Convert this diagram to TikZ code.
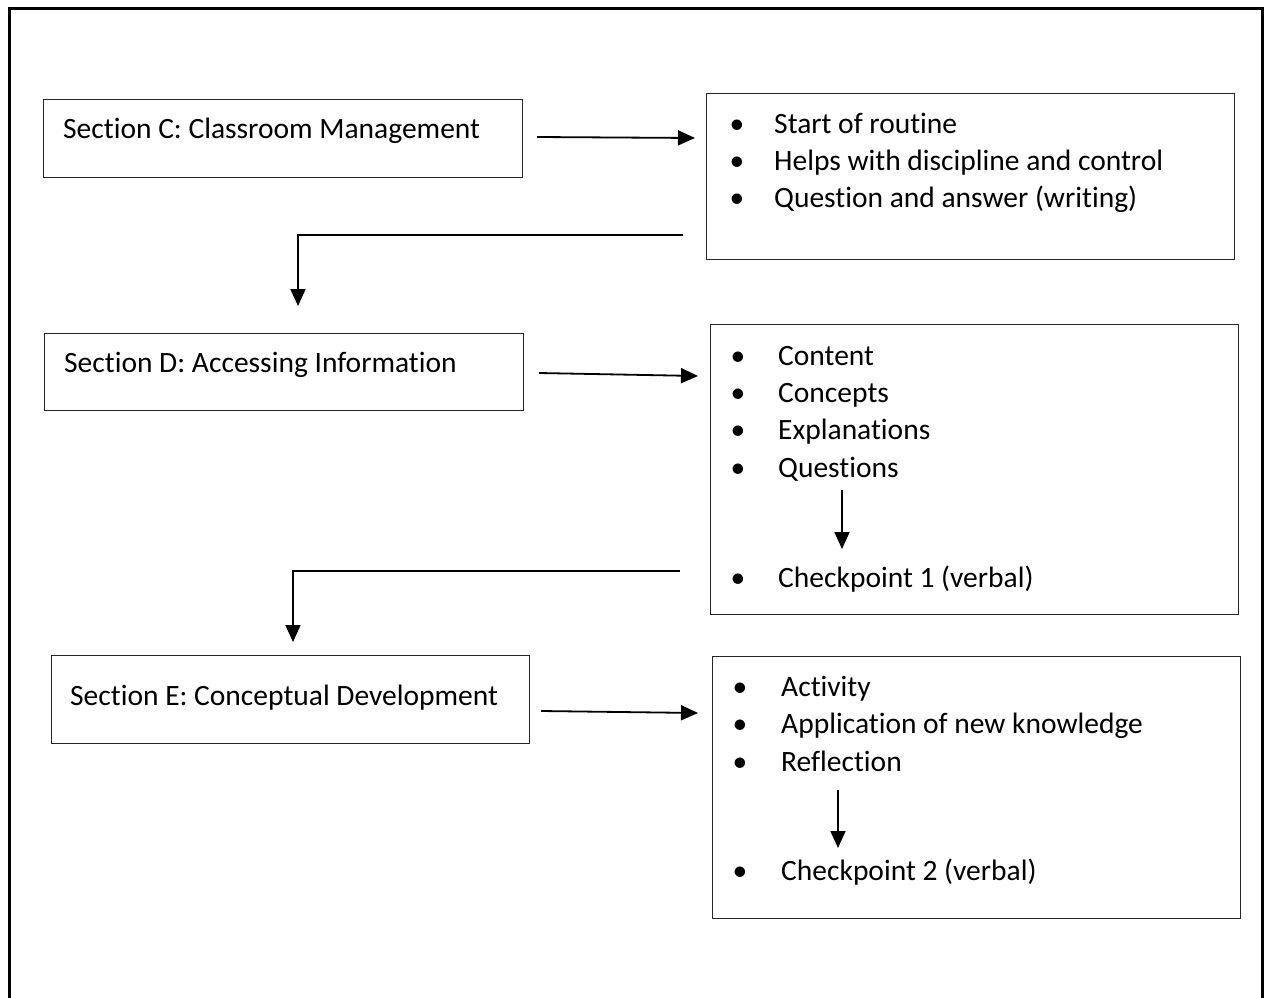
\documentclass[tikz,border=0pt]{standalone}
\usepackage{fontspec}
\setmainfont[Ligatures={NoCommon}]{Carlito}
\usetikzlibrary{arrows.meta}
\begin{document}
\begin{tikzpicture}[x=1pt,y=-1pt,
  box/.style={draw=black!85, line width=1.4pt, anchor=north west, inner sep=0pt},
  txt/.style={anchor=base west, inner sep=0pt, font=\fontsize{29.5}{35}\selectfont},
  bul/.style={anchor=base, inner sep=0pt, font=\fontsize{29.5}{35}\selectfont},
  arr/.style={line width=1.8pt, -{Triangle[length=17pt,width=15pt]}}]
\useasboundingbox (0,0) rectangle (1269,998);
\fill[white] (0,0) rectangle (1269,998);
\draw[line width=3pt] (9,1005) -- (9,9) -- (1262,9) -- (1262,1005);

% boxes
\node[box, minimum width=479pt, minimum height=78pt] (cbox) at (43,99) {};
\node[box, minimum width=528pt, minimum height=166pt] (clist) at (706,93) {};
\node[box, minimum width=479pt, minimum height=77pt] (dbox) at (44,333) {};
\node[box, minimum width=528pt, minimum height=290pt] (dlist) at (710,324) {};
\node[box, minimum width=478pt, minimum height=88pt] (ebox) at (51,655) {};
\node[box, minimum width=528pt, minimum height=262pt] (elist) at (712,656) {};

% labels
\node[txt] (clab) at (63,138) {Section C: Classroom Management};
\node[txt] (dlab) at (64,372) {Section D: Accessing Information};
\node[txt] (elab) at (70,705) {Section E: Conceptual Development};

% C list
\node[bul] at (737,133) {•};
\node[bul] at (737,170) {•};
\node[bul] at (737,207) {•};
\node[txt] (c1) at (774,133) {Start of routine};
\node[txt] (c2) at (774,170) {Helps with discipline and control};
\node[txt] (c3) at (774,207) {Question and answer (writing)};

% D list
\node[bul] at (738,365) {•};
\node[bul] at (738,402) {•};
\node[bul] at (738,439) {•};
\node[bul] at (738,477) {•};
\node[bul] at (738,587) {•};
\node[txt] (d1) at (778,365) {Content};
\node[txt] (d2) at (778,402) {Concepts};
\node[txt] (d3) at (778,439) {Explanations};
\node[txt] (d4) at (778,477) {Questions};
\node[txt] (d5) at (778,587) {Checkpoint 1 (verbal)};

% E list
\node[bul] at (740,696) {•};
\node[bul] at (740,733) {•};
\node[bul] at (740,771) {•};
\node[bul] at (740,880) {•};
\node[txt] (e1) at (781,696) {Activity};
\node[txt] (e2) at (781,733) {Application of new knowledge};
\node[txt] (e3) at (781,771) {Reflection};
\node[txt] (e4) at (781,880) {Checkpoint 2 (verbal)};

% connector ends
\coordinate (a1s) at (537,137);
\coordinate (a1e) at (695,138);
\coordinate (b1s) at (683,235);
\coordinate (b1m) at (298,235);
\coordinate (b1e) at (298,306);
\coordinate (a2s) at (539,373);
\coordinate (a2e) at (698,376);
\coordinate (b2s) at (680,571);
\coordinate (b2m) at (293,571);
\coordinate (b2e) at (293,642);
\coordinate (a3s) at (541,711);
\coordinate (a3e) at (698,713);
\coordinate (q1s) at (842,490);
\coordinate (q1e) at (842,549);
\coordinate (q2s) at (838,790);
\coordinate (q2e) at (838,848);

\draw[arr] (a1s) -- (a1e);
\draw[arr] (b1s) -- (b1m) -- (b1e);
\draw[arr] (a2s) -- (a2e);
\draw[arr] (b2s) -- (b2m) -- (b2e);
\draw[arr] (a3s) -- (a3e);
\draw[arr] (q1s) -- (q1e);
\draw[arr] (q2s) -- (q2e);
\end{tikzpicture}
\end{document}
